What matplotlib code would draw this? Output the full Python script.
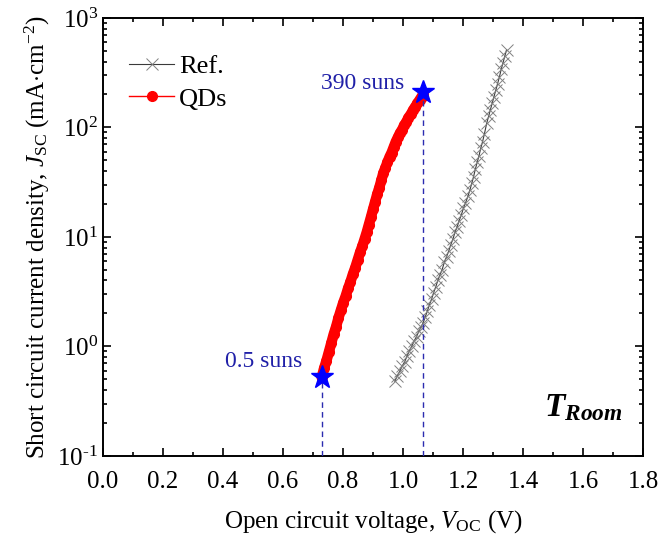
import numpy as np
import matplotlib
matplotlib.use("Agg")
import matplotlib.pyplot as plt
from matplotlib.ticker import MultipleLocator, LogLocator, NullFormatter, FuncFormatter

plt.rcParams['font.family'] = ['Liberation Serif', 'DejaVu Serif']
plt.rcParams['mathtext.fontset'] = 'custom'
plt.rcParams['mathtext.rm'] = 'Liberation Serif'
plt.rcParams['mathtext.it'] = 'Liberation Serif:italic'
plt.rcParams['mathtext.bf'] = 'Liberation Serif:bold'
plt.rcParams['mathtext.bfit'] = 'Liberation Serif:italic:bold'
plt.rcParams['axes.unicode_minus'] = False

# reference cell: Voc (V) vs Jsc (mA/cm2)
ref_v = [0.973, 0.981, 0.989, 0.997, 1.005, 1.013, 1.021, 1.029, 1.037, 1.045,
         1.053, 1.060, 1.067, 1.074, 1.081, 1.088, 1.095, 1.102, 1.109, 1.116,
         1.123, 1.130, 1.138, 1.145, 1.152, 1.159, 1.166, 1.173, 1.180, 1.187,
         1.194, 1.201, 1.208, 1.216, 1.223, 1.229, 1.235, 1.241, 1.247, 1.253,
         1.259, 1.265, 1.271, 1.279, 1.285, 1.291, 1.297, 1.303, 1.309, 1.315,
         1.321, 1.327, 1.333, 1.339, 1.345]
ref_j = [0.48, 0.54, 0.59, 0.66, 0.72, 0.81, 0.91, 1.00, 1.12, 1.23,
         1.38, 1.51, 1.64, 1.86, 2.1, 2.4, 2.7, 3.1, 3.5, 4.0,
         4.5, 5.0, 5.9, 6.6, 7.4, 8.5, 9.5, 11.0, 12.3, 14.1,
         15.8, 18.2, 20.4, 23.4, 26.9, 30.9, 35.5, 41.7, 47.9, 55.0,
         64.6, 74.1, 87.0, 110, 126, 145, 166, 191, 219, 251,
         288, 339, 389, 447, 513]

# quantum dot cell
qd_v = [0.729, 0.737, 0.745, 0.753, 0.761, 0.769, 0.777, 0.785, 0.793, 0.801,
        0.809, 0.817, 0.825, 0.833, 0.841, 0.849, 0.857, 0.865, 0.872, 0.879,
        0.886, 0.893, 0.900, 0.907, 0.914, 0.921, 0.928, 0.934, 0.941, 0.948,
        0.955, 0.962, 0.969, 0.976, 0.983, 0.990, 0.997, 1.004, 1.011, 1.018,
        1.026, 1.034, 1.041, 1.048, 1.055, 1.062, 1.068]
qd_j = [0.52, 0.63, 0.74, 0.89, 1.07, 1.29, 1.51, 1.82, 2.14, 2.51,
        2.88, 3.39, 3.89, 4.57, 5.25, 6.17, 7.24, 8.32, 9.55, 11.0,
        12.9, 15.1, 17.8, 20.9, 24.5, 28.2, 33.1, 38.0, 42.7, 47.9,
        53.7, 58.9, 66.1, 74.1, 81.3, 89.1, 95.5, 105, 112, 123,
        132, 145, 155, 166, 178, 191, 204]

# concentration end points
star_v = [0.730, 1.068]
star_j = [0.53, 210]
star_lbl = ["0.5 suns", "390 suns"]

fig = plt.figure(figsize=(6.59, 5.44), dpi=100)
ax = fig.add_axes([0.156, 0.162, 0.820, 0.805])

ax.plot(ref_v, ref_j, color='#3a3a3a', lw=0.8, marker='x', ms=8,
        mec='#808080', mew=0.7, label='Ref.')
# dense red band under the markers
ax.plot(qd_v, qd_j, color='red', lw=7.5, solid_capstyle='round')
ax.plot(qd_v, qd_j, color='red', lw=1, marker='o', ms=7, mec='red',
        mfc='red', label='QDs')

dash_col = '#2b2bb0'
for v, j in zip(star_v, star_j):
    ax.plot([v, v], [0.1, j], ls=(0, (4, 3)), color=dash_col, lw=1, zorder=3)
ax.plot(star_v, star_j, ls='none', marker='*', ms=17, color='blue', zorder=5)

txt_col = '#2020a8'
ax.annotate(star_lbl[0], (star_v[0], star_j[0]), xytext=(-14, 3),
            textcoords='offset points', ha='right', va='bottom',
            fontsize=17, color=txt_col)
ax.annotate(star_lbl[1], (star_v[1], star_j[1]), xytext=(-14, -1),
            textcoords='offset points', ha='right', va='bottom',
            fontsize=17, color=txt_col)

ax.text(0.962, 0.075, r'$\mathbfit{T}_{\mathbfit{Room}}$', transform=ax.transAxes,
        ha='right', va='bottom', fontsize=24)


def log_label(val, pos):
    e = int(round(np.log10(val)))
    if e < 0:
        return '$\\mathdefault{10^{\u2010%d}}$' % (-e)
    return '$\\mathdefault{10^{%d}}$' % e


ax.set_yscale('log')
ax.set_xlim(0, 1.8)
ax.set_ylim(0.1, 1000)
ax.xaxis.set_major_locator(MultipleLocator(0.2))
ax.xaxis.set_minor_locator(MultipleLocator(0.1))
ax.yaxis.set_major_locator(LogLocator(base=10, numticks=10))
ax.yaxis.set_minor_locator(LogLocator(base=10, subs=np.arange(2, 10), numticks=20))
ax.yaxis.set_major_formatter(FuncFormatter(log_label))
ax.yaxis.set_minor_formatter(NullFormatter())
ax.xaxis.set_major_formatter(matplotlib.ticker.FormatStrFormatter('%.1f'))

ax.tick_params(which='both', direction='in', top=True, right=True,
               labelsize=18, width=1.2)
ax.tick_params(which='major', length=6)
ax.tick_params(which='minor', length=3)
ax.tick_params(axis='x', pad=11)
for sp in ax.spines.values():
    sp.set_linewidth(1.4)

ax.set_xlabel(r'Open circuit voltage, $V_{\rm OC}$ (V)', fontsize=18, labelpad=11)
ax.set_ylabel(r'Short circuit current density, $J_{\rm SC}$ (mA$\cdot$cm$^{-2}$)',
              fontsize=18, labelpad=4)

leg = ax.legend(loc='upper left', bbox_to_anchor=(0.0, 0.977), frameon=False,
                fontsize=19, numpoints=1, handlelength=1.7, handletextpad=0.2,
                borderaxespad=0.6, labelspacing=0.35)

fig.savefig('out.png', dpi=100)
